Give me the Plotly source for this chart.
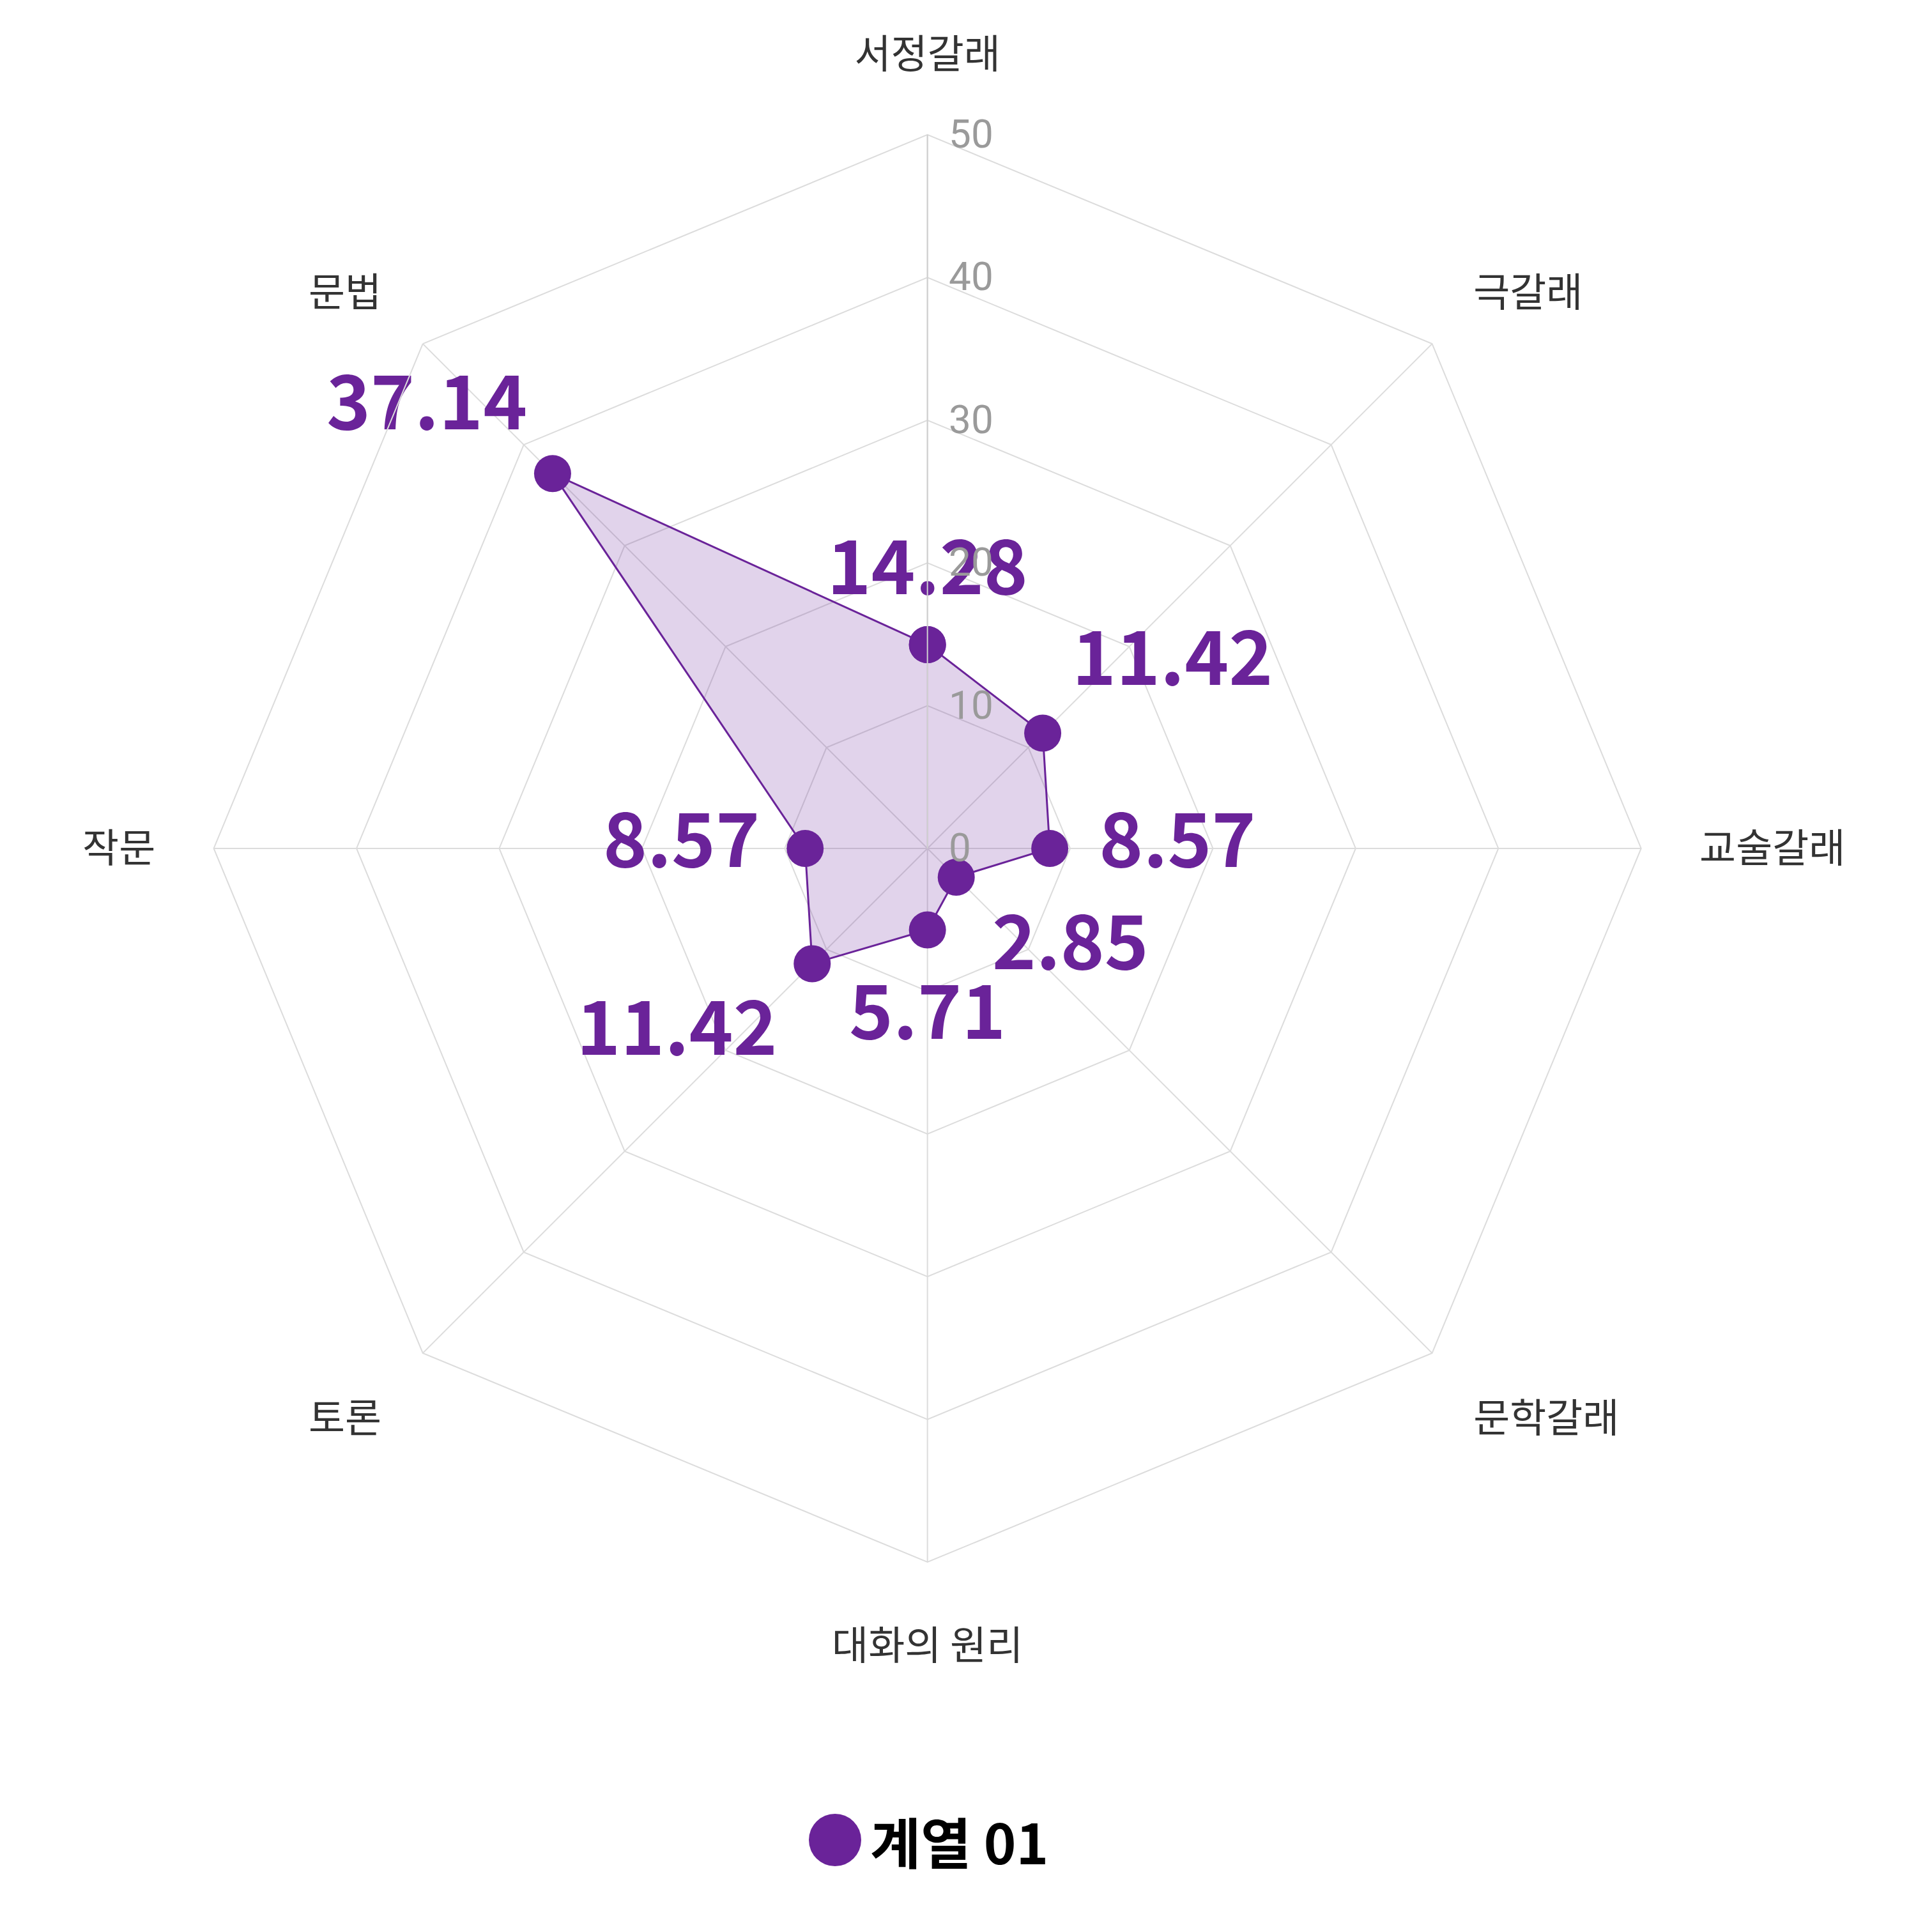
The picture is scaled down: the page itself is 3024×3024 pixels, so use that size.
import plotly.graph_objects as go

categories = ["서정갈래", "극갈래", "교술갈래", "문학갈래", "대화의 원리", "토론", "작문", "문법"]
values = [14.28, 11.42, 8.57, 2.85, 5.71, 11.42, 8.57, 37.14]
label_positions = ["top center", "top right", "middle right", "bottom right",
                   "bottom center", "bottom left", "middle left", "top left"]
series_name = "계열 01"
radial_ticks = [0, 10, 20, 30, 40, 50]

purple = "#6a2399"
font_family = "Noto Sans CJK KR"

fig = go.Figure()

# filled polygon + markers
fig.add_trace(go.Scatterpolar(
    r=values + values[:1],
    theta=categories + categories[:1],
    mode="lines+markers",
    fill="toself",
    fillcolor="rgba(106, 35, 153, 0.2)",
    line=dict(color=purple, width=3),
    marker=dict(size=58, color=purple),
    name=series_name,
    showlegend=False,
))

# value labels; invisible markers of different size push the text off the dots
fig.add_trace(go.Scatterpolar(
    r=values,
    theta=categories,
    mode="markers+text",
    marker=dict(size=[78, 72, 122, 88, 130, 86, 112, 62],
                color="rgba(0,0,0,0)", line=dict(width=0)),
    text=[f"{v:.2f}" for v in values],
    textposition=label_positions,
    textfont=dict(family=font_family, size=117, color=purple, weight="bold"),
    hoverinfo="skip",
    showlegend=False,
))

fig.update_layout(
    width=3024,
    height=3024,
    paper_bgcolor="white",
    plot_bgcolor="white",
    margin=dict(l=0, r=0, t=0, b=0),
    showlegend=False,
    polar=dict(
        domain=dict(x=[0.1080, 0.8468], y=[0.1941, 0.9329]),
        bgcolor="white",
        gridshape="linear",
        radialaxis=dict(
            range=[0, 50],
            tickvals=radial_ticks,
            angle=90,
            tickangle=90,
            showline=True,
            linecolor="#d0d0d0",
            linewidth=2,
            gridcolor="#dcdcdc",
            gridwidth=2,
            ticks="outside",
            ticklen=20,
            tickcolor="rgba(0,0,0,0)",
            tickfont=dict(family="Roboto", size=62, color="#9a9a9a"),
        ),
        angularaxis=dict(
            direction="clockwise",
            rotation=90,
            linecolor="#dcdcdc",
            linewidth=2,
            gridcolor="#dcdcdc",
            gridwidth=2,
            ticks="outside",
            ticklen=78,
            tickcolor="rgba(0,0,0,0)",
            tickfont=dict(family=font_family, size=62, color="#333333"),
        ),
    ),
)

# legend drawn by hand so the swatch can be large
fig.add_shape(type="circle", xref="paper", yref="paper",
              x0=(1299 - 41) / 3024, x1=(1299 + 41) / 3024,
              y0=(3024 - 2872 - 41) / 3024, y1=(3024 - 2872 + 41) / 3024,
              fillcolor=purple, line=dict(width=0))
fig.add_annotation(x=1352 / 3024, y=(3024 - 2872) / 3024, xref="paper", yref="paper",
                   xanchor="left", yanchor="middle", showarrow=False,
                   text=series_name,
                   font=dict(family=font_family, size=86, color="black", weight="bold"))

fig.write_html("out.html")
